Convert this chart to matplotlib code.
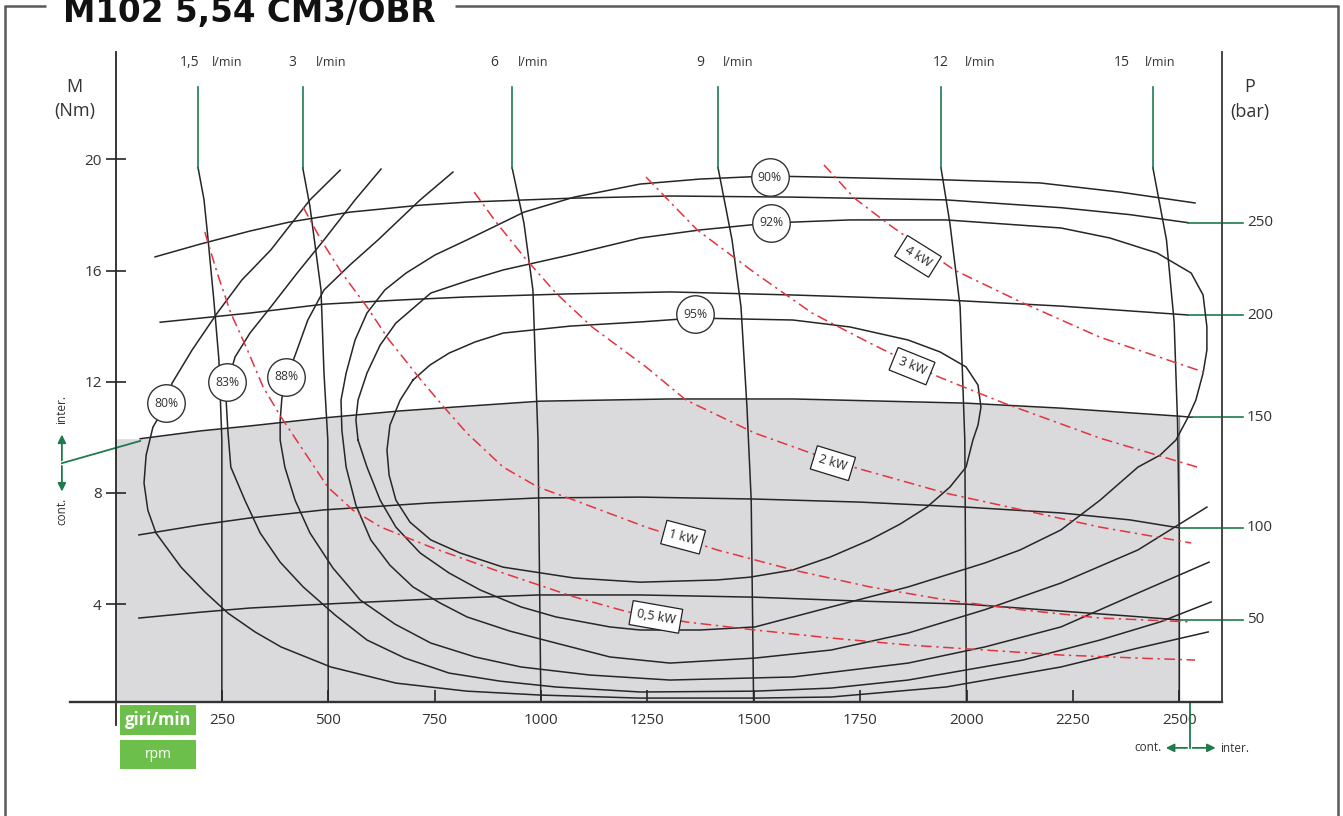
import matplotlib
matplotlib.use("Agg")
import matplotlib.pyplot as plt
from matplotlib.patches import Rectangle

plt.rcParams['font.family'] = ['Open Sans', 'DejaVu Sans']

# =========================
# Data: (rpm, Nm)
# =========================

# flow lines (l/min)
flow_names = ['1,5', '3', '6', '9', '12', '15']
flow_1_5 = [(194, 19.7), (208, 18.55), (217, 17.2), (231, 14.95), (243, 12.8), (250, 9.9), (250, 0)]
flow_3 = [(440, 19.7), (457, 18.3), (483, 15.3), (490, 12.3), (499, 9.9), (500, 0)]
flow_6 = [(932, 19.7), (960, 17.7), (981, 15.3), (993, 9.9), (1000, 0)]
flow_9 = [(1416, 19.7), (1449, 17.1), (1470, 14.7), (1484, 11.1), (1494, 7.75), (1500, 0)]
flow_12 = [(1940, 19.7), (1961, 17.7), (1985, 14.7), (1996, 9.9), (2000, 0)]
flow_15 = [(2438, 19.7), (2470, 17.1), (2488, 14.15), (2496, 10.55), (2500, 6.6), (2500, 0)]
flow_lines = [flow_1_5, flow_3, flow_6, flow_9, flow_12, flow_15]
flow_num_x = [175, 415, 889, 1374, 1940, 2365]
flow_unit_x = [227, 471, 946, 1428, 1996, 2420]

# pressure lines (bar)
pressure_names = ['250', '200', '150', '100', '50']
p_250 = [(93, 16.49), (199, 16.95), (316, 17.42), (408, 17.74), (551, 18.10), (716, 18.35),
         (826, 18.46), (1068, 18.60), (1303, 18.68), (1592, 18.64), (1952, 18.54),
         (2222, 18.26), (2384, 18.01), (2521, 17.72)]
p_200 = [(105, 14.14), (316, 14.47), (490, 14.79), (669, 14.94), (826, 15.05), (1068, 15.16),
         (1303, 15.23), (1592, 15.12), (1952, 14.94), (2222, 14.72), (2521, 14.40)]
p_150 = [(58, 9.95), (199, 10.23), (316, 10.41), (490, 10.70), (669, 10.95), (826, 11.12),
         (998, 11.30), (1303, 11.38), (1592, 11.38), (1999, 11.23), (2222, 11.05),
         (2501, 10.76), (2530, 10.72)]
p_100 = [(55, 6.49), (199, 6.85), (316, 7.10), (490, 7.39), (739, 7.64), (993, 7.82),
         (1233, 7.85), (1503, 7.78), (1750, 7.67), (1999, 7.49), (2222, 7.28),
         (2384, 7.03), (2501, 6.74)]
p_50 = [(55, 3.50), (199, 3.71), (316, 3.86), (490, 4.00), (739, 4.18), (993, 4.33),
        (1233, 4.33), (1503, 4.25), (1750, 4.11), (1999, 4.00), (2222, 3.75),
        (2384, 3.57), (2501, 3.43)]
pressure_lines = [p_250, p_200, p_150, p_100, p_50]

# efficiency contours
eta_names = ['80%', '83%', '88%', '90%', '92%', '95%']
eta_80 = [(528, 19.61), (457, 18.54), (365, 16.74), (297, 15.66), (239, 14.47), (180, 13.14),
          (133, 11.95), (121, 11.23), (88, 10.37), (72, 9.36), (67, 8.36), (76, 7.38),
          (95, 6.56), (154, 5.33), (210, 4.44), (264, 3.68), (328, 3.00), (389, 2.46),
          (506, 1.74), (659, 1.16), (826, 0.87), (998, 0.73), (1233, 0.62), (1503, 0.62),
          (1682, 0.66), (1952, 1.02), (2222, 1.74), (2403, 2.42), (2568, 3.00)]
eta_83 = [(624, 19.65), (563, 18.54), (490, 17.10), (427, 15.91), (365, 14.69), (316, 13.75),
          (281, 12.89), (264, 11.99), (260, 11.34), (264, 10.26), (271, 8.93), (304, 7.74),
          (340, 6.56), (387, 5.51), (441, 4.62), (516, 3.61), (591, 2.71), (680, 2.06),
          (784, 1.52), (904, 1.23), (1035, 1.02), (1233, 0.84), (1503, 0.87), (1682, 0.98),
          (1863, 1.27), (2133, 1.99), (2314, 2.71), (2455, 3.36), (2575, 4.08)]
eta_88 = [(793, 19.54), (716, 18.54), (617, 17.10), (551, 16.20), (490, 15.30), (452, 14.22),
          (424, 13.03), (403, 12.17), (391, 11.41), (387, 10.62), (387, 9.90), (398, 8.93),
          (422, 7.74), (457, 6.56), (511, 5.30), (575, 4.15), (657, 3.28), (741, 2.60),
          (845, 2.10), (953, 1.74), (1115, 1.45), (1303, 1.27), (1592, 1.38), (1863, 1.88),
          (2043, 2.46), (2222, 3.18), (2403, 4.40), (2570, 5.51)]
eta_90 = [(2537, 18.43), (2361, 18.82), (2173, 19.15), (1952, 19.26), (1663, 19.36),
          (1534, 19.40), (1374, 19.29), (1233, 19.11), (1078, 18.64), (960, 18.10),
          (826, 17.10), (751, 16.56), (683, 15.91), (633, 15.30), (591, 14.47), (563, 13.50),
          (542, 12.31), (530, 11.34), (532, 10.26), (542, 8.93), (565, 7.56), (600, 6.31),
          (645, 5.40), (699, 4.62), (763, 4.04), (826, 3.54), (927, 3.03), (1035, 2.60),
          (1162, 2.10), (1303, 1.88), (1503, 2.06), (1682, 2.35), (1863, 2.96), (2043, 3.80),
          (2222, 4.76), (2403, 5.95), (2565, 7.49)]
eta_92 = [(570, 9.90), (565, 10.62), (570, 11.34), (591, 12.31), (622, 13.32), (659, 14.11),
          (741, 15.19), (833, 15.66), (911, 16.02), (1068, 16.56), (1233, 17.17), (1374, 17.46),
          (1538, 17.71), (1726, 17.82), (1952, 17.82), (2222, 17.53), (2337, 17.17),
          (2448, 16.63), (2528, 15.91), (2556, 15.12), (2565, 13.97), (2565, 13.14),
          (2556, 12.31), (2539, 11.34), (2521, 10.73), (2492, 9.90), (2455, 9.36),
          (2403, 8.93), (2314, 7.74), (2222, 6.67), (2126, 5.95), (2043, 5.48), (1863, 4.62),
          (1682, 3.90), (1503, 3.18), (1374, 3.07), (1233, 3.07), (1162, 3.18), (1035, 3.54),
          (953, 3.90), (857, 4.51), (784, 5.12), (716, 5.84), (659, 6.77), (622, 7.74),
          (591, 8.93), (570, 9.90)]
eta_95 = [(699, 12.06), (739, 12.60), (784, 13.03), (845, 13.43), (911, 13.75), (1068, 14.00),
          (1233, 14.15), (1362, 14.29), (1592, 14.22), (1726, 13.97), (1863, 13.50),
          (1938, 13.07), (1999, 12.53), (2027, 11.88), (2034, 11.09), (2027, 10.44),
          (2015, 9.90), (1999, 8.93), (1961, 8.21), (1907, 7.49), (1844, 6.88), (1773, 6.31),
          (1679, 5.69), (1592, 5.23), (1491, 4.97), (1414, 4.87), (1233, 4.79), (1078, 4.94),
          (911, 5.33), (810, 5.84), (741, 6.31), (692, 6.95), (659, 7.74), (643, 8.64),
          (638, 9.54), (645, 10.44), (669, 11.34), (699, 12.06)]
eta_lines = [eta_80, eta_83, eta_88, eta_90, eta_92, eta_95]
eta_label_pos = [(119, 11.23), (262, 11.99), (401, 12.17), (1538, 19.36), (1541, 17.71), (1362, 14.43)]

# output power lines (kW)
power_names = ['4 kW', '3 kW', '2 kW', '1 kW', '0,5 kW']
kw_4 = [(1665, 19.80), (1736, 18.61), (1820, 17.63), (1971, 16.02), (2133, 14.83),
        (2314, 13.60), (2565, 12.31)]
kw_3 = [(1247, 19.36), (1367, 17.46), (1503, 15.91), (1637, 14.47), (1773, 13.39),
        (1935, 12.17), (2088, 11.23), (2314, 9.97), (2542, 8.93)]
kw_2 = [(843, 18.82), (894, 17.75), (960, 16.49), (1035, 15.19), (1120, 13.97), (1247, 12.53),
        (1341, 11.34), (1503, 10.15), (1701, 9.07), (1952, 7.99), (2133, 7.38), (2314, 6.77),
        (2528, 6.20)]
kw_1 = [(441, 18.28), (483, 17.10), (532, 15.91), (591, 14.69), (643, 13.50), (718, 12.06),
        (774, 11.05), (826, 10.15), (911, 8.93), (993, 8.21), (1078, 7.74), (1247, 6.77),
        (1414, 5.95), (1592, 5.23), (1773, 4.62), (1952, 4.15), (2133, 3.79), (2314, 3.50),
        (2528, 3.36)]
kw_05 = [(210, 17.38), (239, 15.91), (271, 14.47), (307, 13.25), (347, 11.81), (389, 10.73),
         (441, 9.54), (499, 8.21), (558, 7.38), (624, 6.77), (741, 6.05), (911, 5.12),
         (1078, 4.26), (1204, 3.72), (1341, 3.36), (1503, 3.07), (1682, 2.78), (1863, 2.53),
         (2043, 2.35), (2222, 2.17), (2403, 2.06), (2537, 1.99)]
power_lines = [kw_4, kw_3, kw_2, kw_1, kw_05]
power_label_pos = [(1886, 16.51), (1872, 12.56), (1686, 9.07), (1334, 6.41), (1270, 3.54)]
power_label_rot = [-32, -22, -17, -15, -10]

rpm_ticks = [250, 500, 750, 1000, 1250, 1500, 1750, 2000, 2250, 2500]
torque_ticks = [4, 8, 12, 16, 20]
cont_rpm_max = 2500

# =========================
# Styles
# =========================
W, H = 1343, 816
c_line = '#262626'
c_text = '#333333'
c_green = '#1f7a4d'
c_box = '#6dbf4b'
c_red = '#e3343f'
c_grey = '#dadadd'
red_style = (0, (7, 3, 1.5, 3))

fig = plt.figure(figsize=(W / 100, H / 100), dpi=100)

# page frame and title (pixel coordinates)
bg = fig.add_axes([0, 0, 1, 1], zorder=-1)
bg.set_xlim(0, W)
bg.set_ylim(H, 0)
bg.axis('off')
for xs, ys in [([4, 46], [6, 6]), ([455, 1339], [6, 6]),
               ([5, 5], [6, H]), ([1338, 1338], [6, H])]:
    bg.plot(xs, ys, color='#5a5a5a', lw=1.8, solid_capstyle='butt')
bg.text(63, 22, 'M102 5,54 CM3/OBR', family='DejaVu Sans', fontweight='bold',
        fontsize=23.5, va='baseline', ha='left', color='#111111')

# chart axes
ax = fig.add_axes([115.5 / W, (H - 702) / H, 1106.3 / W, 650 / H])
ax.patch.set_alpha(0)
ax.set_xlim(0, 2600)
ax.set_ylim(0.48, 23.86)
for s in ax.spines.values():
    s.set_visible(False)

# continuous-duty region
xs = [0] + [p[0] for p in p_150 if p[0] <= cont_rpm_max] + [cont_rpm_max]
ys = [p_150[0][1]] + [p[1] for p in p_150 if p[0] <= cont_rpm_max] + [p_150[-2][1]]
ax.fill_between(xs, ys, 0, color=c_grey, lw=0, zorder=0)
ax.plot([cont_rpm_max, cont_rpm_max], [0, p_150[-2][1]], color='#8a8a8a', lw=1.0, zorder=1)

# axis lines
ax.plot([0, 0], [-0.35, 23.86], color=c_line, lw=1.3, clip_on=False, zorder=4)
ax.plot([-107, 2600], [0.48, 0.48], color='#333333', lw=1.7, clip_on=False, zorder=4)
ax.plot([2600, 2600], [0.48, 23.86], color='#444444', lw=1.4, clip_on=False, zorder=4)

# flow lines
for pts, name, nx, ux in zip(flow_lines, flow_names, flow_num_x, flow_unit_x):
    ax.plot([p[0] for p in pts], [p[1] for p in pts], color=c_line, lw=1.1, zorder=2)
    ax.plot([pts[0][0], pts[0][0]], [22.6, pts[0][1]], color=c_green, lw=1.2, zorder=2)
    ax.text(nx, 23.5, name, ha='center', va='center', fontsize=10, color=c_text)
    ax.text(ux, 23.5, 'l/min', ha='left', va='center', fontsize=9, color=c_text)

# pressure lines with right labels
for pts, name in zip(pressure_lines, pressure_names):
    ax.plot([p[0] for p in pts], [p[1] for p in pts], color=c_line, lw=1.1, zorder=2)
    ax.plot([pts[-1][0], 2650], [pts[-1][1], pts[-1][1]], color=c_green, lw=1.2,
            clip_on=False, zorder=2)
    ax.text(2659, pts[-1][1], name, ha='left', va='center', fontsize=11, color=c_text)

# efficiency contours
for pts in eta_lines:
    ax.plot([p[0] for p in pts], [p[1] for p in pts], color=c_line, lw=1.1, zorder=2)
for (x, y), name in zip(eta_label_pos, eta_names):
    ax.plot(x, y, 'o', ms=27, mfc='white', mec='#333333', mew=1.0, zorder=5)
    ax.text(x, y, name, ha='center', va='center', fontsize=8.8, color=c_text, zorder=6)

# output power lines
for pts in power_lines:
    ax.plot([p[0] for p in pts], [p[1] for p in pts], color=c_red, lw=1.1,
            linestyle=red_style, zorder=3)
for (x, y), name, rot in zip(power_label_pos, power_names, power_label_rot):
    ax.text(x, y, name, ha='center', va='center', rotation=rot, rotation_mode='anchor',
            fontsize=9, color='#222222', zorder=6,
            bbox=dict(boxstyle='square,pad=0.45', fc='white', ec='#222222', lw=0.9))

# ticks
ax.set_xticks(rpm_ticks)
ax.set_yticks(torque_ticks)
ax.tick_params(axis='x', direction='in', length=8.6, width=1.2, color=c_line,
               pad=8, labelsize=11, labelcolor=c_text)
ax.tick_params(axis='y', direction='inout', length=13.7, width=1.2, color=c_line,
               pad=3, labelsize=11, labelcolor=c_text)

# axis titles
ax.text(-97, 22.6, 'M', ha='center', va='center', fontsize=13, color=c_text, clip_on=False)
ax.text(-95, 21.75, '(Nm)', ha='center', va='center', fontsize=13, color=c_text, clip_on=False)
ax.text(2666, 22.6, 'P', ha='center', va='center', fontsize=13, color=c_text, clip_on=False)
ax.text(2666, 21.7, '(bar)', ha='center', va='center', fontsize=13, color=c_text, clip_on=False)

# giri/min - rpm boxes
ax.add_patch(Rectangle((10, -0.70), 179, 1.07, fc=c_box, ec='none', clip_on=False))
ax.add_patch(Rectangle((10, -1.92), 179, 1.04, fc=c_box, ec='none', clip_on=False))
ax.text(100, -0.17, 'giri/min', ha='center', va='center', fontsize=12, fontweight='bold',
        color='white', clip_on=False)
ax.text(100, -1.40, 'rpm', ha='center', va='center', fontsize=10, color='white', clip_on=False)

# cont./inter. markers
ax.plot([-126, 58], [9.07, 9.87], color=c_green, lw=1.3, clip_on=False)
ax.annotate('', xy=(-126, 10.2), xytext=(-126, 9.07), xycoords='data', annotation_clip=False,
            arrowprops=dict(arrowstyle='-|>', color=c_green, lw=1.3, mutation_scale=12))
ax.annotate('', xy=(-126, 7.95), xytext=(-126, 9.07), xycoords='data', annotation_clip=False,
            arrowprops=dict(arrowstyle='-|>', color=c_green, lw=1.3, mutation_scale=12))
ax.text(-126, 11.0, 'inter.', rotation=90, ha='center', va='center', fontsize=8.5,
        color=c_text, clip_on=False)
ax.text(-126, 7.35, 'cont.', rotation=90, ha='center', va='center', fontsize=8.5,
        color=c_text, clip_on=False)

ax.plot([2525, 2525], [0.48, -1.17], color=c_green, lw=1.3, clip_on=False)
ax.annotate('', xy=(2462, -1.17), xytext=(2525, -1.17), xycoords='data', annotation_clip=False,
            arrowprops=dict(arrowstyle='-|>', color=c_green, lw=1.3, mutation_scale=12))
ax.annotate('', xy=(2592, -1.17), xytext=(2525, -1.17), xycoords='data', annotation_clip=False,
            arrowprops=dict(arrowstyle='-|>', color=c_green, lw=1.3, mutation_scale=12))
ax.text(2458, -1.17, 'cont.', ha='right', va='center', fontsize=8.5, color=c_text, clip_on=False)
ax.text(2596, -1.2, 'inter.', ha='left', va='center', fontsize=8.5, color=c_text, clip_on=False)

fig.savefig('out.png', dpi=100)
